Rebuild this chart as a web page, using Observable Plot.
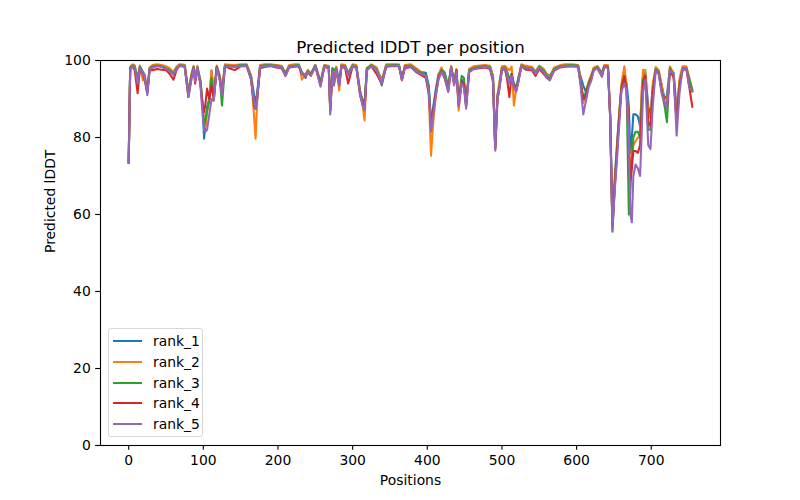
<!DOCTYPE html>
<html>
<head>
<meta charset="utf-8">
<script src="https://cdn.jsdelivr.net/npm/d3@7"></script>
<script src="https://cdn.jsdelivr.net/npm/@observablehq/plot@0.6"></script>
<style>
  html, body { margin: 0; padding: 0; background: white; }
  #wrap { position: relative; width: 800px; height: 500px; font-family: "DejaVu Sans", sans-serif; }
  #legend { position: absolute; left: 108px; top: 328px; width: 95px; height: 109px;
    border: 1px solid #d6d6d6; border-radius: 3px; background: rgba(255,255,255,0.8); box-sizing: border-box; }
  .item { position: absolute; left: 4px; height: 20px; display: flex; align-items: center; font-size: 13.9px; color: #000; }
  .sw { width: 29px; height: 2px; margin-right: 11px; }
</style>
</head>
<body>
<div id="wrap"><div id="chart"></div><div id="legend"></div></div>
<script>
const ranks = ["rank_1", "rank_2", "rank_3", "rank_4", "rank_5"];
const colors = ["#1f77b4", "#ff7f0e", "#2ca02c", "#d62728", "#9467bd"];
const xTicks = [0, 100, 200, 300, 400, 500, 600, 700];
const yTicks = [0, 20, 40, 60, 80, 100];

const positions = [
  0,2,5,8,12,15,19,21,25,28,
  32,38,44,50,55,60,64,68,75,80,
  84,87,89,92,96,99,101,103,105,108,
  111,114,118,122,125,129,135,142,150,158,
  164,168,170,172,176,182,190,198,205,210,
  215,222,228,232,237,240,244,250,257,262,
  268,270,273,275,278,282,285,290,294,300,
  305,310,313,316,319,325,332,339,345,355,
  362,366,370,378,385,392,398,402,405,408,
  411,415,419,423,428,432,436,439,442,446,
  449,452,456,462,470,478,484,488,491,494,
  496,500,504,507,510,513,516,519,522,526,
  532,540,545,550,556,560,564,570,578,585,
  595,602,605,609,612,616,620,623,628,634,
  637,642,645,648,651,654,657,660,664,667,
  670,672,674,676,679,682,685,687,689,692,
  696,699,702,706,710,714,718,721,725,730,
  734,738,742,747,751,755
];

const rank_1 = [
  73.5,98.0,98.8,98.5,95.5,98.5,97.0,96.5,92.0,98.0,
  98.6,98.8,98.6,98.2,97.8,97.0,98.2,98.9,98.8,92.0,
  96.0,98.4,95.5,98.3,95.0,89.0,79.7,84.0,88.0,90.0,
  97.4,91.0,98.4,96.0,92.5,98.8,98.7,98.6,98.8,98.9,
  96.0,91.0,89.0,91.5,98.6,98.8,98.9,98.7,98.5,96.8,
  98.6,98.8,98.8,97.0,95.5,97.5,96.5,98.8,94.5,98.7,
  98.5,88.0,98.0,95.0,98.2,94.5,98.8,98.6,96.8,98.8,
  98.5,92.0,90.0,89.0,98.0,98.8,98.0,95.0,98.8,98.9,
  98.8,95.5,98.6,98.8,97.8,97.0,96.8,93.5,84.0,88.0,
  92.0,96.5,97.8,96.8,93.0,98.4,94.5,97.6,89.5,95.0,
  94.5,89.0,97.5,98.2,98.5,98.6,98.4,96.0,78.0,91.0,
  93.0,98.2,98.4,96.8,95.0,96.5,94.0,93.0,95.5,98.8,
  98.4,98.2,97.0,98.5,97.6,96.5,96.0,98.0,98.6,98.8,
  98.8,98.7,96.0,93.5,92.0,94.0,96.0,98.0,98.4,96.8,
  98.6,98.5,86.0,57.0,69.0,78.0,86.0,93.0,96.0,94.0,
  88.0,76.0,80.0,86.0,86.0,85.5,83.0,90.0,96.0,97.0,
  88.0,86.0,93.0,97.8,97.2,93.5,90.0,91.0,98.0,96.8,
  87.0,94.5,98.0,98.2,95.0,92.5
];

const rank_2 = [
  73.5,98.4,99.0,98.8,95.0,98.7,94.8,96.5,92.0,98.2,
  98.8,99.0,98.8,98.5,98.0,96.8,98.4,99.0,98.9,91.5,
  96.5,98.6,95.0,98.6,94.5,88.5,84.0,82.7,86.5,90.0,
  97.4,90.5,98.7,96.0,92.0,99.0,98.9,98.8,99.0,99.0,
  96.0,85.3,79.7,89.0,98.8,99.0,99.0,98.8,98.6,96.5,
  98.8,99.0,99.0,95.0,96.5,97.5,96.5,98.8,94.0,98.8,
  98.6,87.0,98.0,94.5,98.4,92.2,99.0,98.8,96.5,99.0,
  98.8,92.0,89.0,84.4,98.0,99.0,98.2,94.5,99.0,99.0,
  99.0,94.8,98.8,99.0,98.0,97.0,96.0,91.0,75.3,84.0,
  90.0,96.0,98.2,96.5,92.5,98.6,94.0,97.8,87.0,94.5,
  93.5,88.5,97.8,98.5,98.7,98.8,98.6,96.0,77.5,91.0,
  93.5,98.5,98.6,98.0,97.5,98.4,88.3,92.5,95.0,99.0,
  98.6,98.4,97.2,98.6,97.8,96.5,95.5,98.2,98.8,99.0,
  99.0,98.8,95.6,89.0,91.0,94.5,96.5,98.2,98.6,96.5,
  98.8,98.8,86.0,57.0,68.0,77.0,86.0,94.0,98.5,93.0,
  80.0,70.0,74.0,78.0,79.0,80.0,80.0,92.0,97.5,97.5,
  86.0,85.0,94.0,98.3,97.5,93.5,89.0,89.0,98.5,96.5,
  86.0,95.5,98.5,98.5,95.5,92.0
];

const rank_3 = [
  73.5,98.0,98.7,98.4,95.0,98.4,96.8,95.5,92.0,97.8,
  98.5,98.7,98.5,98.0,97.5,96.5,98.0,98.8,98.6,91.0,
  96.0,98.3,95.0,98.2,94.5,88.5,83.0,84.5,87.0,89.5,
  95.5,90.0,98.4,95.5,88.3,98.7,98.6,98.5,98.8,98.8,
  95.5,88.0,87.4,90.5,98.5,98.8,98.8,98.6,98.4,96.5,
  98.5,98.7,98.8,96.8,96.2,97.2,96.5,98.7,94.0,98.6,
  98.4,87.0,98.0,97.5,98.0,94.0,98.7,98.5,96.5,98.8,
  98.4,91.5,89.0,88.0,97.8,98.8,97.8,93.5,98.7,98.8,
  98.8,95.2,98.5,98.7,97.5,96.8,96.2,93.0,83.0,87.0,
  91.0,95.5,97.5,97.0,93.5,98.2,94.0,97.5,89.0,96.0,
  95.5,88.5,97.4,98.0,98.4,98.6,98.2,95.5,77.0,90.5,
  92.5,98.0,98.2,97.0,95.0,96.5,93.5,92.5,95.0,98.7,
  98.2,98.0,96.8,98.4,97.4,96.0,95.2,97.8,98.5,98.7,
  98.8,98.6,95.0,90.0,91.5,94.0,96.0,97.8,98.3,96.5,
  98.5,98.4,85.0,55.5,67.0,76.0,85.0,93.0,96.0,92.0,
  60.0,66.0,74.0,80.0,81.5,81.5,80.0,88.0,95.0,96.0,
  82.0,82.0,92.0,97.8,97.0,92.0,88.0,84.0,98.0,96.0,
  84.0,94.0,98.0,98.0,95.0,92.0
];

const rank_4 = [
  73.5,97.8,98.5,97.5,91.5,97.8,96.5,95.5,91.5,97.5,
  97.5,97.8,97.6,97.5,96.5,95.0,97.5,98.6,98.4,90.5,
  95.5,98.0,94.0,97.8,94.0,88.0,86.6,89.0,92.7,90.0,
  93.5,90.0,98.2,95.0,91.5,98.5,98.0,97.5,98.5,98.6,
  95.0,88.5,87.5,90.0,98.0,98.3,98.6,98.2,98.0,96.0,
  98.2,98.4,98.5,96.5,95.8,97.0,96.0,98.5,93.5,98.3,
  98.0,87.0,97.5,94.0,97.5,93.5,98.4,98.0,94.0,98.5,
  98.0,91.0,89.0,87.5,97.5,98.5,96.5,94.0,98.4,98.6,
  98.5,95.0,98.0,98.3,97.0,96.2,95.5,91.5,82.5,87.0,
  91.0,95.5,97.2,95.5,92.0,98.0,94.0,97.2,88.5,94.5,
  94.0,88.0,97.0,97.8,98.0,98.2,97.8,94.5,77.0,90.0,
  92.0,97.5,97.8,95.0,90.5,96.5,93.0,92.0,94.5,98.5,
  97.6,97.5,96.0,97.8,96.5,95.5,95.0,97.4,98.2,98.4,
  98.5,98.3,94.5,90.0,90.5,93.5,95.5,97.5,98.0,95.8,
  98.4,98.2,85.0,57.0,67.0,76.0,85.0,92.5,96.0,92.0,
  78.0,69.0,72.0,76.5,76.5,76.0,78.0,86.0,94.0,96.0,
  84.0,83.0,92.0,97.5,96.5,92.0,89.0,87.5,97.5,95.5,
  84.0,93.5,97.5,97.8,93.0,88.0
];

const rank_5 = [
  73.5,97.5,98.6,98.0,94.0,98.2,96.5,96.0,91.0,97.5,
  98.2,98.5,98.3,97.8,97.2,96.2,97.8,98.7,98.5,90.5,
  95.0,98.0,94.5,98.0,94.0,86.0,82.0,81.5,82.0,86.0,
  90.0,89.5,98.0,95.0,91.0,98.5,98.4,98.3,98.6,98.7,
  95.0,89.0,87.5,90.0,98.3,98.6,98.7,98.4,98.2,96.0,
  98.3,98.5,98.6,96.5,96.0,97.0,96.0,98.5,93.2,98.4,
  98.2,86.0,97.5,93.5,97.8,93.5,98.5,98.3,96.0,98.6,
  98.2,91.0,88.5,87.0,97.5,98.6,97.5,94.0,98.5,98.7,
  98.6,95.0,98.3,98.5,97.2,96.5,96.0,92.0,81.5,86.0,
  90.5,95.0,97.0,96.0,91.8,98.0,93.5,97.0,88.0,94.0,
  93.0,87.5,97.0,97.8,98.2,98.4,98.0,95.0,76.6,90.0,
  92.0,97.8,98.0,96.0,94.0,96.0,93.0,92.0,94.5,98.6,
  98.0,97.8,96.5,98.2,97.0,95.5,94.8,97.5,98.3,98.5,
  98.6,98.4,94.0,86.0,89.0,93.0,95.0,97.5,98.0,96.0,
  98.3,98.0,85.0,56.0,66.0,74.0,83.0,92.0,94.0,92.0,
  78.0,60.0,58.0,70.0,73.0,72.0,70.0,80.0,92.0,95.0,
  78.0,77.0,88.0,97.4,96.5,91.4,89.0,87.5,97.5,96.5,
  80.5,92.0,97.8,98.0,93.0,92.0
];

const seriesValues = [rank_1, rank_2, rank_3, rank_4, rank_5];
const data = [];
ranks.forEach((r, k) => {
  positions.forEach((p, i) => data.push({pos: p, value: seriesValues[k][i], rank: r}));
});

const chart = Plot.plot({
  width: 800,
  height: 500,
  marginLeft: 100,
  marginRight: 80,
  marginTop: 60,
  marginBottom: 55,
  style: {fontFamily: "DejaVu Sans", fontSize: "13.9px", background: "white", color: "black", overflow: "visible"},
  x: {domain: [-37.75, 792.75]},
  y: {domain: [0, 100]},
  color: {domain: ranks, range: colors},
  marks: [
    Plot.line(data, {x: "pos", y: "value", z: "rank", stroke: "rank", strokeWidth: 2.08, strokeLinejoin: "round", strokeLinecap: "square"}),
    Plot.frame({stroke: "black", strokeWidth: 1.1}),
    Plot.axisX({ticks: xTicks, tickSize: 4.86, tickPadding: 4.5, label: null, fontSize: 13.9, strokeWidth: 1.1}),
    Plot.axisY({ticks: yTicks, tickSize: 4.86, tickPadding: 4.86, label: null, fontSize: 13.9, strokeWidth: 1.1}),
    Plot.text(["Positions"], {frameAnchor: "bottom", dy: 39, fontSize: 13.9}),
    Plot.text(["Predicted lDDT"], {frameAnchor: "left", dx: -50, rotate: -90, fontSize: 13.9}),
    Plot.text(["Predicted lDDT per position"], {frameAnchor: "top", dy: -19, fontSize: 16.7})
  ]
});
document.getElementById("chart").appendChild(chart);

const legend = document.getElementById("legend");
ranks.forEach((r, i) => {
  const item = document.createElement("div");
  item.className = "item";
  item.style.top = (2 + i * 20.8) + "px";
  const sw = document.createElement("span");
  sw.className = "sw";
  sw.style.background = colors[i];
  const t = document.createElement("span");
  t.textContent = r;
  item.appendChild(sw);
  item.appendChild(t);
  legend.appendChild(item);
});
</script>
</body>
</html>
